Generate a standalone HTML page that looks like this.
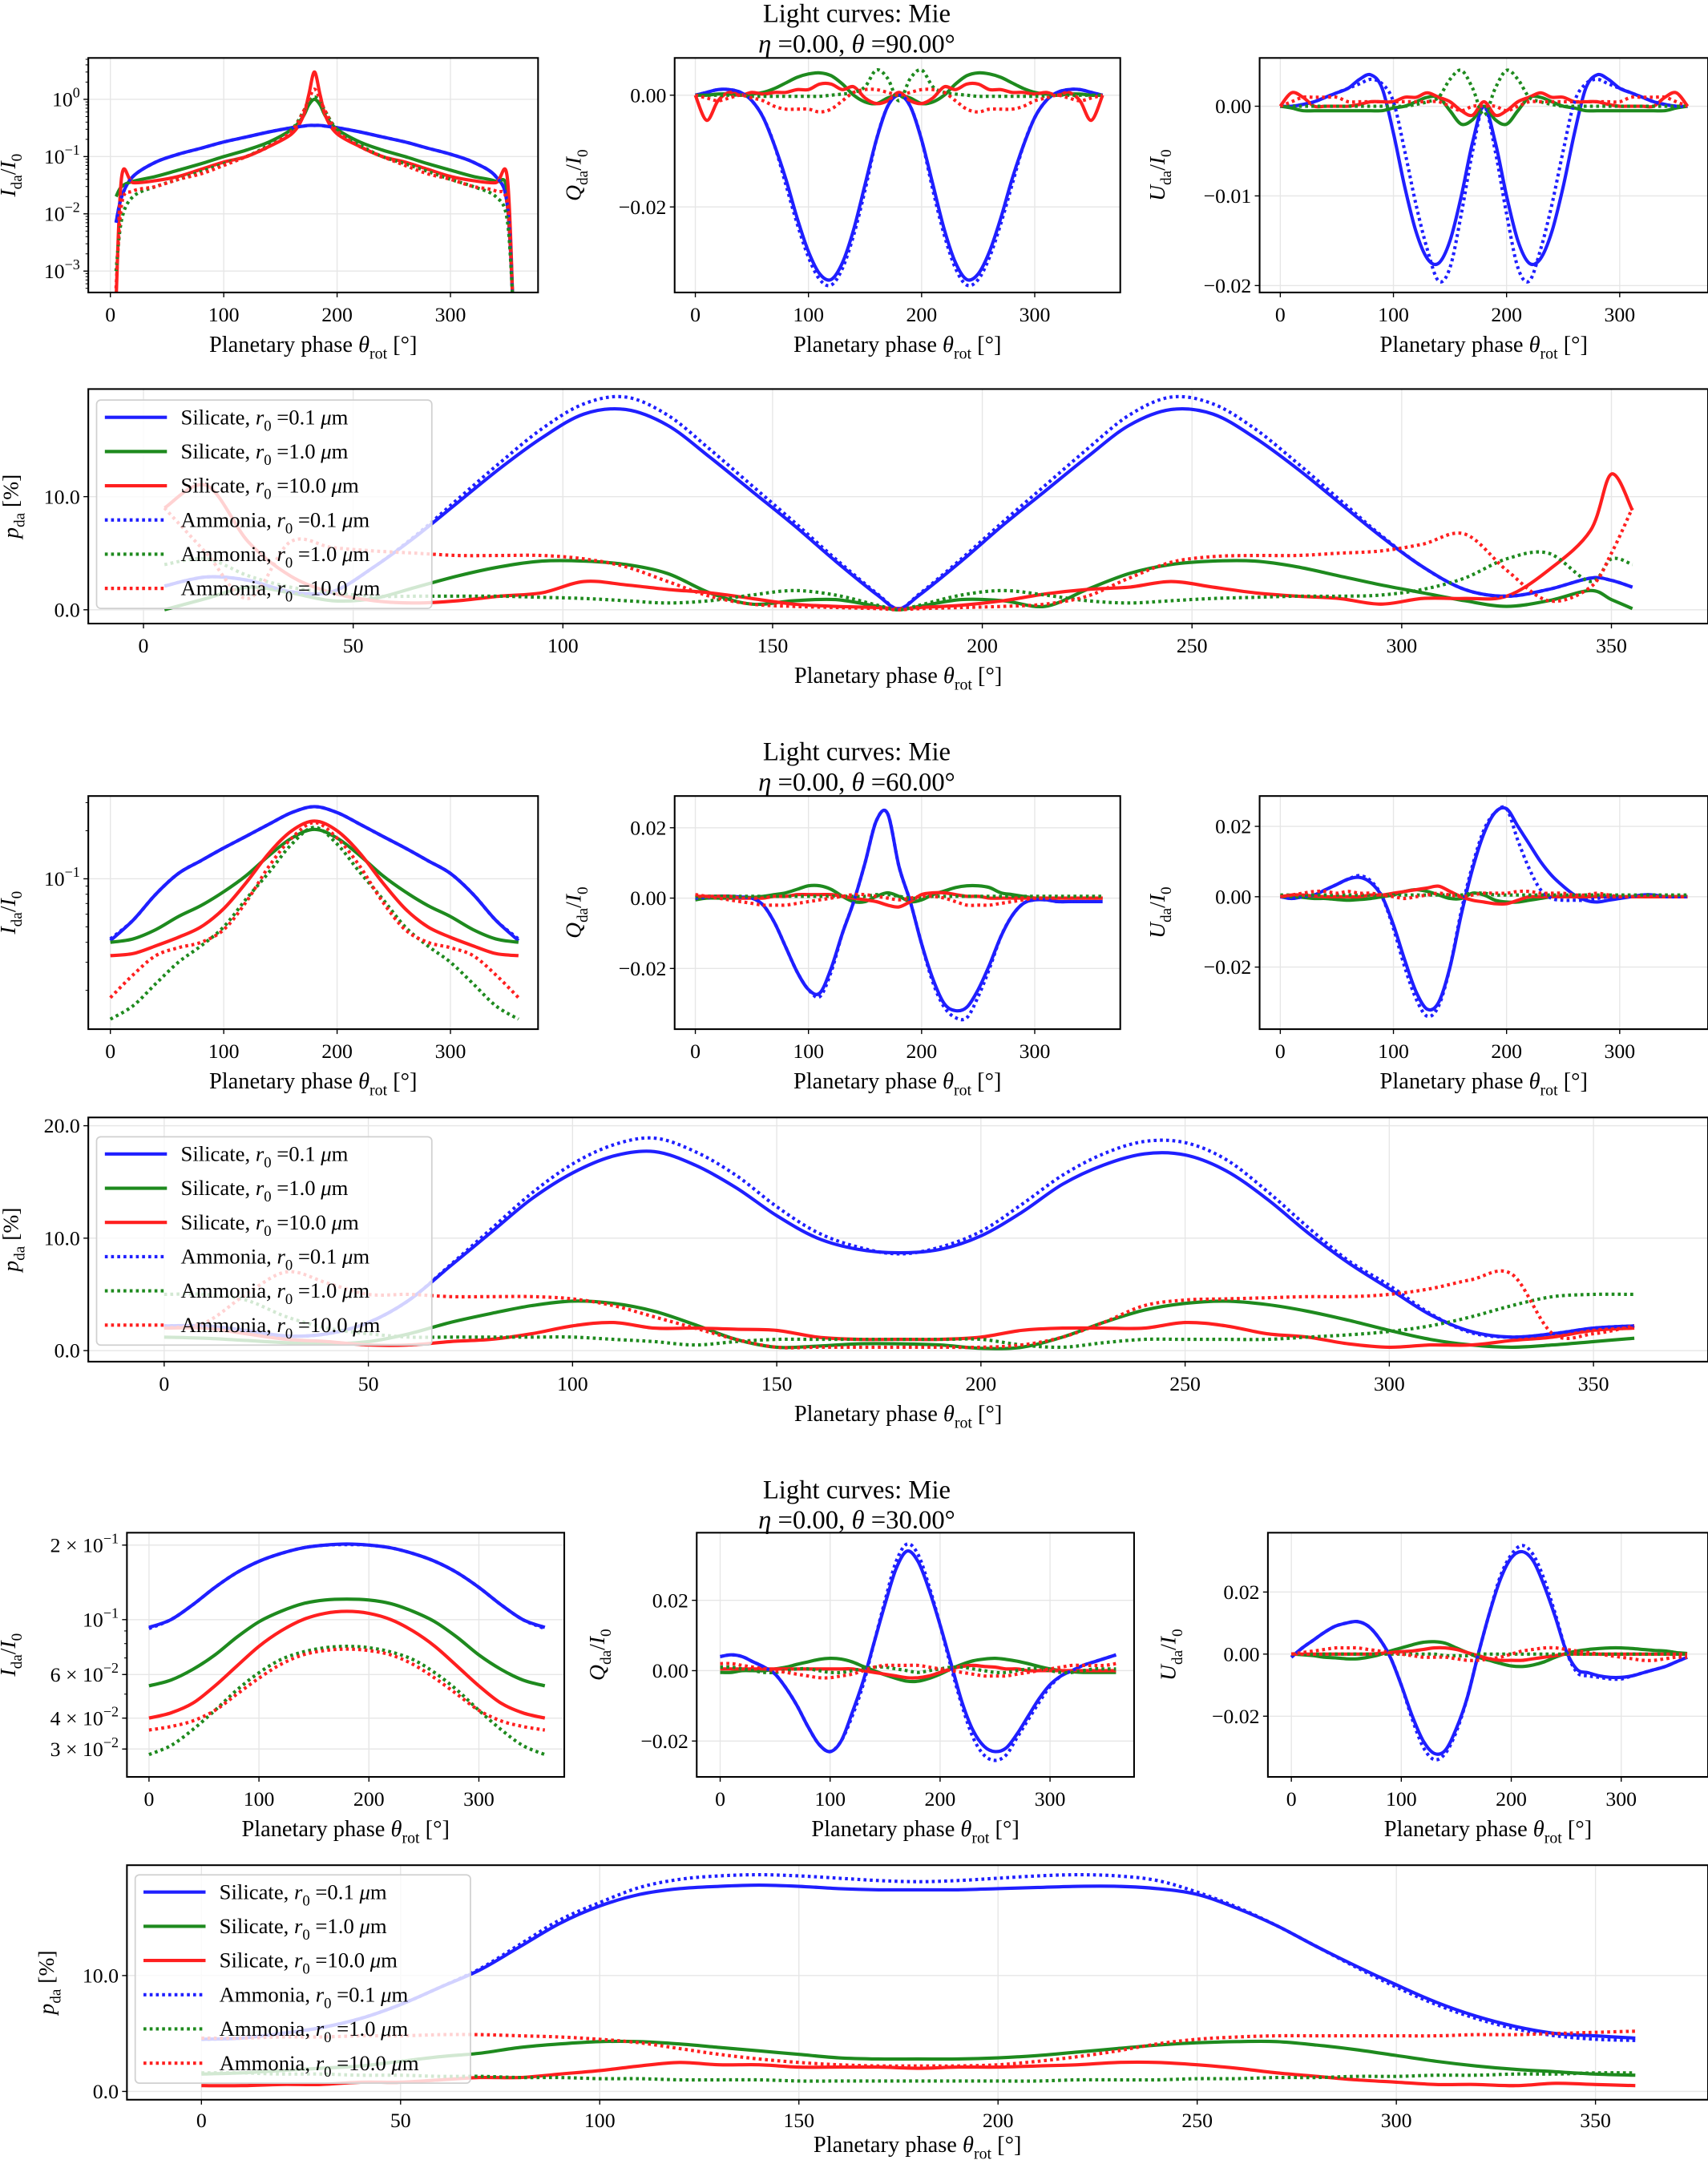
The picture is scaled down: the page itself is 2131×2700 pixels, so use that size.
<!DOCTYPE html>
<html><head><meta charset="utf-8"><title>Light curves: Mie</title>
<style>
html,body{margin:0;padding:0;background:#fff;}
svg{display:block;font-family:"Liberation Serif","DejaVu Serif",serif;}
</style></head>
<body>
<svg id="fig" xmlns="http://www.w3.org/2000/svg" width="2131" height="2700" viewBox="0 0 1238 1568.6" preserveAspectRatio="none"></svg>
<script>
// ---------- data ----------
const phaseIv1 = [5,10,20,40,60,80,100,120,140,160,170,175,180,185,190,200,220,240,260,280,300,320,340,350,355];
const iSilB1 = [0.007,0.02,0.045,0.08,0.11,0.14,0.18,0.22,0.27,0.32,0.34,0.35,0.35,0.35,0.34,0.32,0.27,0.22,0.18,0.14,0.11,0.08,0.045,0.015,0.0003];
const iAmmB1 = [0.007,0.02,0.045,0.08,0.11,0.14,0.18,0.22,0.27,0.32,0.34,0.35,0.35,0.35,0.34,0.32,0.27,0.22,0.18,0.14,0.11,0.08,0.045,0.015,0.0003];
const iSilG1 = [0.02,0.03,0.037,0.045,0.058,0.075,0.1,0.13,0.18,0.3,0.5,0.8,1.0,0.8,0.5,0.3,0.18,0.13,0.1,0.075,0.058,0.045,0.037,0.025,0.0003];
const iSilR1 = [0.0003,0.045,0.035,0.038,0.045,0.06,0.08,0.1,0.15,0.25,0.5,1.2,3.0,1.2,0.5,0.25,0.15,0.1,0.08,0.06,0.045,0.038,0.035,0.045,0.0003];
const iAmmG1 = [0.001,0.008,0.02,0.03,0.04,0.055,0.075,0.1,0.16,0.3,0.6,0.9,1.1,0.9,0.6,0.3,0.16,0.1,0.075,0.055,0.04,0.03,0.02,0.008,0.0003];
const iAmmR1 = [0.0005,0.015,0.025,0.03,0.04,0.05,0.07,0.1,0.15,0.28,0.6,1.0,1.5,1.0,0.6,0.28,0.15,0.1,0.07,0.05,0.04,0.03,0.025,0.015,0.0003];

const phase10 = [0,10,20,30,40,50,60,70,80,90,100,110,120,130,140,150,160,170,180,190,200,210,220,230,240,250,260,270,280,290,300,310,320,330,340,350,360];
const phase20 = [0,20,40,60,80,100,120,140,160,180,200,220,240,260,280,300,320,340,360];
const phaseP1 = [5,15,25,35,45,55,65,75,85,95,105,115,125,135,145,155,165,175,180,185,195,205,215,225,235,245,255,265,275,285,295,305,315,325,335,345,350,355];

// Q, U in units of 0.01
const qSilB1 = [0,0.05,0.1,0.1,0.05,-0.1,-0.4,-0.9,-1.5,-2.2,-2.8,-3.2,-3.3,-3.0,-2.4,-1.6,-0.8,-0.2,0,-0.2,-0.8,-1.6,-2.4,-3.0,-3.3,-3.2,-2.8,-2.2,-1.5,-0.9,-0.4,-0.1,0.05,0.1,0.1,0.05,0];
const qAmmB1 = [0,0.05,0.1,0.1,0.05,-0.1,-0.4,-0.9,-1.6,-2.3,-2.9,-3.3,-3.4,-3.1,-2.5,-1.7,-0.8,-0.2,0,-0.2,-0.8,-1.7,-2.5,-3.1,-3.4,-3.3,-2.9,-2.3,-1.6,-0.9,-0.4,-0.1,0.05,0.1,0.1,0.05,0];
const qSilG1 = [0,0,0.02,0.02,0,0.02,0.05,0.12,0.22,0.32,0.38,0.4,0.35,0.2,0,-0.12,-0.15,-0.05,0,-0.05,-0.15,-0.12,0,0.2,0.35,0.4,0.38,0.32,0.22,0.12,0.05,0.02,0,0.02,0.02,0,0];
const qSilR1 = [0,-0.45,-0.1,0.05,0,0.05,0.02,0.05,0.05,0.1,0.1,0.2,0.2,0.1,0.15,-0.05,-0.15,-0.1,0.05,-0.1,-0.15,-0.05,0.15,0.1,0.2,0.2,0.1,0.1,0.05,0.05,0.02,0.05,0,0.05,-0.1,-0.45,0];
const qAmmG1 = [0,0,0,0,0,-0.02,-0.02,-0.02,-0.02,-0.02,-0.02,-0.02,0,0.02,0.05,0.15,0.45,0.3,-0.1,0.3,0.45,0.15,0.05,0.02,0,-0.02,-0.02,-0.02,-0.02,-0.02,-0.02,-0.02,0,0,0,0,0];
const qAmmR1 = [0,-0.05,-0.1,-0.05,0,-0.05,-0.1,-0.2,-0.25,-0.25,-0.25,-0.3,-0.25,-0.1,0.05,0.1,0.1,0.05,0,0.05,0.1,0.1,0.05,-0.1,-0.25,-0.3,-0.25,-0.25,-0.25,-0.2,-0.1,-0.05,0,-0.05,-0.1,-0.05,0];

const uSilB1 = [0,0,0.02,0.05,0.1,0.15,0.2,0.3,0.35,0.2,-0.3,-0.9,-1.4,-1.7,-1.75,-1.5,-1.0,-0.4,0,-0.4,-1.0,-1.5,-1.75,-1.7,-1.4,-0.9,-0.3,0.2,0.35,0.3,0.2,0.15,0.1,0.05,0.02,0,0];
const uAmmB1 = [0,0,0.02,0.05,0.1,0.15,0.2,0.25,0.3,0.25,0.05,-0.5,-1.1,-1.6,-1.95,-1.8,-1.2,-0.5,0,-0.5,-1.2,-1.8,-1.95,-1.6,-1.1,-0.5,0.05,0.25,0.3,0.25,0.2,0.15,0.1,0.05,0.02,0,0];
const uSilG1 = [0,-0.02,-0.05,-0.05,-0.05,-0.05,-0.05,-0.05,-0.05,-0.05,-0.02,0,0.05,0.1,0.1,-0.05,-0.2,-0.15,0,-0.15,-0.2,-0.05,0.1,0.1,0.05,0,-0.02,-0.05,-0.05,-0.05,-0.05,-0.05,-0.05,-0.05,-0.05,-0.02,0];
const uSilR1 = [0,0.15,0.1,0,0,0,0,0.02,0.05,0.05,0.05,0.1,0.1,0.15,0.1,0.05,-0.05,-0.1,0.05,-0.1,-0.05,0.05,0.1,0.15,0.1,0.1,0.05,0.05,0.05,0.02,0,0,0,0,0.1,0.15,0];
const uAmmG1 = [0,0,0,0,0,0,0,0,0,0,0,0,0.02,0.05,0.1,0.3,0.4,0.2,-0.1,0.2,0.4,0.3,0.1,0.05,0.02,0,0,0,0,0,0,0,0,0,0,0,0];
const uAmmR1 = [0,0.05,0.1,0.1,0.1,0.1,0.05,0.05,0.05,0.05,0.05,0.05,0.05,0.05,0.05,0,-0.05,0,0,0,-0.05,0,0.05,0.05,0.05,0.05,0.05,0.05,0.05,0.05,0.05,0.1,0.1,0.1,0.1,0.05,0];

const pSilB1 = [2.1,2.9,2.6,1.6,1.6,3.8,6.5,9.5,12.5,15.2,17.3,17.7,16.3,13.5,10.5,7.5,4.3,1.3,0.1,1.3,4.3,7.5,10.5,13.5,16.3,17.7,17.3,15.2,12.5,9.5,6.5,3.8,1.8,1.2,1.8,2.8,2.6,2.0];
const pAmmB1 = [2.1,2.9,2.6,1.6,1.6,3.8,6.6,9.8,13,16,18.2,18.8,17.2,14.2,11,7.8,4.5,1.4,0.1,1.4,4.5,7.8,11,14.2,17.2,18.8,18.2,16,13,9.8,6.6,3.8,1.8,1.2,1.8,2.8,2.6,2.0];
const pSilG1 = [0,1.0,2.0,1.5,0.8,1.0,2.0,3.0,3.8,4.3,4.3,4.0,3.2,1.5,0.5,0.8,0.9,0.3,0,0.3,0.9,0.8,0.3,1.8,3.2,4.0,4.3,4.3,3.8,3.0,2.2,1.5,0.8,0.3,0.8,1.7,0.9,0.1];
const pSilR1 = [9,11,6,3,1.5,0.8,0.6,0.8,1.2,1.5,2.5,2.2,1.8,1.5,1.0,0.5,0.3,0.2,0.1,0.2,0.4,0.8,1.4,1.8,2.0,2.5,2.0,1.5,1.2,1.0,0.5,1.0,1.0,1.2,3.5,7,12,8.8];
const pAmmG1 = [4,4.5,3,2,1.5,1.2,1.2,1.2,1.2,1.1,1.0,0.8,0.6,0.8,1.3,1.7,1.3,0.4,0,0.4,1.3,1.7,1.3,0.8,0.6,0.8,1.0,1.1,1.2,1.2,1.3,1.8,2.8,4.5,5.0,2.5,4.5,4.0];
const pAmmR1 = [9,5,1,6,5.5,5.2,5.0,4.8,4.8,4.8,4.5,3.8,2.5,1.2,0.5,0.3,0.2,0.1,0,0.1,0.2,0.3,0.5,1.2,2.8,4.2,4.7,4.8,4.8,5.0,5.2,5.8,6.7,3.5,0.8,2,5,9];

const iSilB2 = [0.041,0.055,0.08,0.108,0.13,0.156,0.185,0.22,0.26,0.283,0.26,0.22,0.185,0.156,0.13,0.108,0.08,0.055,0.041];
const iAmmB2 = [0.042,0.055,0.08,0.108,0.13,0.156,0.185,0.22,0.26,0.283,0.26,0.22,0.185,0.156,0.13,0.108,0.08,0.055,0.042];
const iSilG2 = [0.04,0.042,0.048,0.058,0.068,0.083,0.105,0.14,0.18,0.204,0.18,0.14,0.105,0.083,0.068,0.058,0.048,0.042,0.04];
const iSilR2 = [0.033,0.034,0.038,0.043,0.05,0.065,0.095,0.145,0.2,0.23,0.2,0.145,0.095,0.065,0.05,0.043,0.038,0.034,0.033];
const iAmmG2 = [0.0132,0.016,0.022,0.03,0.038,0.05,0.075,0.11,0.165,0.21,0.165,0.11,0.075,0.05,0.038,0.03,0.022,0.016,0.0132];
const iAmmR2 = [0.018,0.025,0.033,0.037,0.04,0.048,0.072,0.12,0.18,0.225,0.18,0.12,0.072,0.048,0.04,0.037,0.033,0.025,0.018];

const qSilB2 = [0,0.02,0.05,0.05,0.03,0,-0.2,-0.7,-1.4,-2.1,-2.6,-2.7,-2.0,-1.0,-0.1,1.0,2.2,2.4,0.9,-0.1,-1.3,-2.3,-3.0,-3.2,-3.1,-2.6,-1.9,-1.1,-0.5,-0.15,-0.05,-0.05,-0.1,-0.1,-0.1,-0.1,-0.1];
const qAmmB2 = [0,0.02,0.05,0.05,0.03,0,-0.2,-0.7,-1.4,-2.1,-2.6,-2.8,-2.1,-1.0,-0.1,1.0,2.2,2.4,0.9,-0.1,-1.3,-2.4,-3.1,-3.4,-3.4,-2.8,-2.0,-1.1,-0.5,-0.15,-0.05,-0.05,-0.1,-0.1,-0.1,-0.1,-0.1];
const qSilG2 = [-0.05,0,0,0,0,0.02,0.05,0.1,0.15,0.25,0.35,0.35,0.25,0.05,-0.1,-0.1,0.05,0.15,0.05,-0.1,-0.05,0.1,0.2,0.3,0.35,0.35,0.3,0.15,0.1,0.05,0,0,0,0,0,0,0];
const qSilR2 = [0.05,0.05,0.05,0.05,0,0,0,0.05,0.05,0.1,0.1,0.1,0.1,0.05,0,-0.05,-0.1,-0.2,-0.25,-0.1,0.1,0.15,0.15,0.1,0.05,0.05,0,0,0,0,0,0,0,0,0,0,0];
const qAmmG2 = [0.05,0.05,0.05,0.05,0.05,0.05,0.05,0.05,0.05,0.05,0.05,0.05,0.05,0.05,0.05,0.05,0.1,0.1,0.05,0,0,0.05,0.05,0.05,0.05,0.05,0.05,0.05,0.05,0.05,0.05,0.05,0.05,0.05,0.05,0.05,0.05];
const qAmmR2 = [0.1,0.05,0,-0.05,-0.1,-0.15,-0.2,-0.2,-0.2,-0.15,-0.1,-0.05,0,0.05,0.1,0.1,0.05,0,-0.05,0,0.05,0.05,0,-0.1,-0.2,-0.2,-0.2,-0.15,-0.1,-0.05,0,0,0,0,0,0,0];

const uSilB2 = [0,-0.05,0,0.05,0.2,0.35,0.5,0.55,0.4,0,-0.8,-1.8,-2.7,-3.2,-3.0,-2.0,-0.5,0.8,1.8,2.4,2.5,2.0,1.5,1.0,0.6,0.3,0.05,-0.1,-0.15,-0.1,-0.05,0,0.05,0.05,0,0,0];
const uAmmB2 = [0,-0.05,0,0.05,0.2,0.35,0.5,0.6,0.45,0,-0.9,-2.0,-2.9,-3.4,-3.1,-2.0,-0.4,0.9,1.9,2.4,2.5,1.6,0.8,0.2,-0.05,-0.1,-0.1,-0.1,-0.05,0,0,0,0.05,0.05,0,0,0];
const uSilG2 = [0,0,-0.02,-0.05,-0.05,-0.08,-0.1,-0.08,-0.05,0,0.05,0.15,0.2,0.15,0.05,-0.05,-0.05,0.1,0.05,-0.1,-0.15,-0.15,-0.1,-0.05,0,0,0,0,0,0,0,0,0,0,0,0,0];
const uSilR2 = [0,0.05,0.05,0.02,0,0,0,0,0.05,0.05,0.1,0.15,0.2,0.25,0.3,0.15,0,-0.1,-0.15,-0.2,-0.2,-0.1,0,0,0,0,0,0,0,0,0,0,0,0,0,0,0];
const uAmmG2 = [0.05,0.05,0.05,0.05,0.05,0.05,0.05,0.05,0.05,0.05,0.05,0.05,0.05,0.05,0.05,0.05,0.05,0.1,0.1,0.05,0.05,0.05,0.05,0.05,0.05,0.05,0.05,0.05,0.05,0.05,0.05,0.05,0.05,0.05,0.05,0.05,0.05];
const uAmmR2 = [0,0.05,0.1,0.15,0.15,0.1,0.15,0.1,0.1,0.05,0,-0.05,0,0.05,0.1,0.05,0,0.05,0.1,0.1,0.1,0.15,0.15,0.1,0.1,0.1,0.05,0.05,0.1,0.05,0,0,0,0,0,0,0];

const pSilB2 = [2.2,2.2,1.8,1.3,1.5,2.5,4.5,7.5,10.5,13.5,15.8,17.3,17.7,16.5,14.5,12,10,9,8.7,9,10.2,12.3,14.8,16.5,17.5,17.4,16,13.5,10.5,7.8,5.5,3.2,1.7,1.2,1.5,2.0,2.2];
const pAmmB2 = [2.2,2.2,1.8,1.3,1.5,2.5,4.5,7.6,10.8,14,16.6,18.3,18.9,17.7,15.6,12.8,10.5,9.2,8.6,9.2,10.6,13,15.6,17.5,18.6,18.5,17,14.2,11,8,5.8,3.3,1.6,1.2,1.5,2.0,2.2];
const pSilG2 = [1.2,1.1,0.9,0.7,0.6,0.8,1.5,2.5,3.3,4.0,4.4,4.2,3.5,2.3,1.0,0.3,0.4,0.6,0.6,0.5,0.2,0.3,1.2,2.5,3.6,4.2,4.4,4.1,3.5,2.7,1.8,1.0,0.5,0.3,0.5,0.8,1.1];
const pSilR2 = [2.0,2.0,1.5,1.0,0.8,0.5,0.5,0.8,1.0,1.5,2.2,2.5,2.0,2.0,1.9,1.8,1.2,1.0,1.0,1.0,1.2,1.8,2.0,2.0,2.0,2.5,2.2,1.5,1.2,0.6,0.3,0.5,0.5,0.9,1.2,1.8,2.0];
const pAmmG2 = [5,5,4.5,3,2,1.5,1.2,1.2,1.2,1.2,1.2,1.0,0.8,0.5,0.8,1.0,1.0,1.0,1.0,1.0,1.0,0.5,0.3,0.7,1.0,1.0,1.0,1.0,1.2,1.4,1.7,2.2,3,4,4.8,5,5];
const pAmmR2 = [2,2.5,5,7,6,5,5,4.8,4.8,4.8,4.6,4.0,3.0,2.0,1.0,0.3,0.3,0.3,0.3,0.3,0.3,0.5,1.2,2.5,4.0,4.5,4.6,4.7,4.8,4.8,5,5.5,6.3,6.8,1.5,1.5,2.2];

const iSilB3 = [0.093,0.1,0.115,0.135,0.155,0.172,0.185,0.195,0.2,0.202,0.2,0.195,0.185,0.172,0.155,0.135,0.115,0.1,0.093];
const iAmmB3 = [0.092,0.1,0.115,0.135,0.155,0.172,0.185,0.195,0.2,0.201,0.2,0.195,0.185,0.172,0.155,0.135,0.115,0.1,0.092];
const iSilG3 = [0.054,0.057,0.063,0.072,0.085,0.098,0.108,0.116,0.12,0.121,0.12,0.116,0.108,0.098,0.085,0.072,0.063,0.057,0.054];
const iSilR3 = [0.04,0.042,0.046,0.054,0.065,0.078,0.09,0.1,0.106,0.108,0.106,0.1,0.09,0.078,0.065,0.054,0.046,0.042,0.04];
const iAmmG3 = [0.0285,0.031,0.036,0.043,0.052,0.061,0.069,0.074,0.077,0.078,0.077,0.074,0.069,0.061,0.052,0.043,0.036,0.031,0.0285];
const iAmmR3 = [0.0358,0.037,0.039,0.043,0.05,0.058,0.066,0.072,0.075,0.076,0.075,0.072,0.066,0.058,0.05,0.043,0.039,0.037,0.0358];

const qSilB3 = [0.4,0.45,0.4,0.25,0.1,-0.1,-0.5,-1.0,-1.6,-2.1,-2.3,-2.0,-1.2,-0.3,0.8,1.9,2.9,3.4,3.1,2.3,1.3,0.2,-0.9,-1.7,-2.15,-2.3,-2.2,-1.8,-1.3,-0.8,-0.4,-0.15,0,0.15,0.25,0.35,0.45];
const qAmmB3 = [0.4,0.45,0.4,0.25,0.1,-0.1,-0.5,-1.0,-1.6,-2.1,-2.3,-2.0,-1.3,-0.4,0.8,2.0,3.1,3.6,3.3,2.4,1.3,0.1,-1.0,-1.9,-2.4,-2.55,-2.4,-1.9,-1.4,-0.9,-0.45,-0.15,0,0.15,0.25,0.35,0.45];
const qSilG3 = [-0.05,-0.05,0,0,0,0.05,0.1,0.18,0.25,0.32,0.35,0.33,0.25,0.12,0,-0.12,-0.22,-0.3,-0.3,-0.22,-0.1,0.05,0.18,0.28,0.33,0.35,0.32,0.27,0.2,0.12,0.05,0,-0.03,-0.05,-0.05,-0.05,-0.05];
const qSilR3 = [0.05,0.05,0.05,0.05,0.05,0.05,0.05,0.05,0.05,0.05,0.05,0.05,0.05,0,-0.05,-0.1,-0.15,-0.2,-0.2,-0.15,-0.05,0.05,0.12,0.15,0.12,0.1,0.05,0.05,0,0,0,0,0,0,0,0,0];
const qAmmG3 = [0.1,0.1,0.05,0,-0.05,-0.05,0,0.05,0.05,0,-0.05,-0.05,0,0.05,0.1,0.1,0.05,0,-0.05,0,0.05,0.1,0.1,0.05,0,-0.05,-0.05,0,0.05,0.05,0,-0.05,-0.05,0,0.05,0.05,0.05];
const qAmmR3 = [0.2,0.2,0.15,0.1,0.05,0,-0.05,-0.1,-0.15,-0.2,-0.2,-0.15,-0.1,0,0.1,0.15,0.15,0.15,0.15,0.1,0.05,0,-0.05,-0.1,-0.15,-0.15,-0.15,-0.1,-0.05,0,0.05,0.1,0.15,0.15,0.15,0.15,0.2];

const uSilB3 = [-0.1,0.2,0.45,0.7,0.9,1.0,1.05,0.9,0.5,-0.1,-1.0,-2.0,-2.8,-3.2,-3.1,-2.4,-1.4,0,1.3,2.4,3.1,3.3,3.0,2.2,1.2,0.1,-0.5,-0.6,-0.7,-0.75,-0.75,-0.7,-0.6,-0.5,-0.4,-0.25,-0.1];
const uAmmB3 = [-0.1,0.2,0.45,0.7,0.9,1.0,1.05,0.9,0.5,-0.1,-1.0,-2.1,-3.0,-3.4,-3.2,-2.5,-1.4,0,1.3,2.5,3.2,3.5,3.2,2.4,1.3,0.1,-0.6,-0.7,-0.75,-0.8,-0.8,-0.7,-0.6,-0.5,-0.4,-0.25,-0.1];
const uSilG3 = [0,-0.02,-0.05,-0.1,-0.12,-0.15,-0.15,-0.1,-0.02,0.1,0.2,0.3,0.38,0.4,0.35,0.2,0.05,-0.1,-0.2,-0.3,-0.38,-0.4,-0.35,-0.25,-0.1,0.02,0.1,0.15,0.18,0.2,0.2,0.18,0.15,0.12,0.1,0.05,0.02];
const uSilR3 = [0,0,0,0,0,0,0,0,0.02,0.05,0.08,0.1,0.15,0.2,0.2,0.15,0.05,-0.05,-0.15,-0.2,-0.2,-0.2,-0.15,-0.1,-0.05,0,0,0,0,0,0,0,0,0,0,0,0];
const uAmmG3 = [0,0,0,0,0,0,0,0,0,0,0,0,0,0,-0.05,-0.05,-0.05,0,0,0,0,0,0,0,0,0,0,0,0,0,0,0,0,0,0,0,0];
const uAmmR3 = [0,0.05,0.1,0.15,0.2,0.2,0.2,0.15,0.1,0.05,0,-0.05,-0.1,-0.1,-0.1,-0.15,-0.2,-0.2,-0.15,-0.1,0,0.1,0.15,0.2,0.2,0.15,0.1,0.05,0,-0.05,-0.1,-0.15,-0.2,-0.2,-0.15,-0.1,-0.1];

const pSilB3 = [4.5,4.6,5.0,5.5,6.3,7.5,9.0,10.5,12.5,14.5,16.0,17.0,17.5,17.7,17.8,17.7,17.5,17.4,17.4,17.4,17.5,17.6,17.7,17.7,17.5,17.0,15.8,14.3,12.5,10.8,9.2,7.7,6.5,5.6,5.0,4.8,4.6];
const pAmmB3 = [4.5,4.6,5.0,5.5,6.3,7.5,9.0,10.6,12.7,14.8,16.3,17.6,18.3,18.6,18.7,18.6,18.4,18.2,18.1,18.2,18.4,18.6,18.7,18.6,18.2,17.2,15.9,14.3,12.5,10.7,9.0,7.5,6.3,5.4,4.8,4.5,4.4];
const pSilG3 = [1.5,1.6,1.8,2.0,2.2,2.6,3.0,3.3,3.8,4.1,4.3,4.3,4.1,3.8,3.5,3.2,2.9,2.8,2.8,2.8,2.9,3.1,3.4,3.7,4.0,4.2,4.3,4.3,4.0,3.6,3.1,2.6,2.2,1.9,1.7,1.5,1.4];
const pSilR3 = [0.5,0.5,0.6,0.6,0.8,0.8,1.0,1.2,1.2,1.5,1.8,2.2,2.5,2.3,2.3,2.1,2.1,2.1,2.0,2.1,2.1,2.2,2.3,2.5,2.5,2.3,2.0,1.6,1.3,1.0,0.8,0.6,0.6,0.5,0.7,0.6,0.5];
const pAmmG3 = [1.6,1.6,1.5,1.5,1.4,1.4,1.3,1.3,1.2,1.2,1.1,1.1,1.0,1.0,1.0,0.9,0.9,0.9,0.9,0.9,0.9,0.9,1.0,1.0,1.0,1.1,1.1,1.2,1.2,1.3,1.3,1.4,1.4,1.5,1.5,1.6,1.6];
const pAmmR3 = [4.6,4.6,4.7,4.7,4.8,4.8,4.9,4.9,4.8,4.7,4.5,4.2,3.7,3.2,2.8,2.5,2.3,2.2,2.2,2.2,2.3,2.6,3.0,3.5,4.1,4.5,4.7,4.8,4.8,4.8,4.8,4.8,4.9,4.9,5.0,5.1,5.2];

const legendSizes = ["0.1","1.0","10.0","0.1","1.0","10.0"];
const legendMaterials = ["Silicate","Silicate","Silicate","Ammonia","Ammonia","Ammonia"];
const thetaLabels = ["90.00","60.00","30.00"];
const xTicksSmall = [0,100,200,300];
const xTicksWide = [0,50,100,150,200,250,300,350];

// ---------- drawing ----------
const NS = 'http://www.w3.org/2000/svg';
const svg = document.getElementById('fig');
const BLUE = '#1f1fff', GREEN = '#1e8a1e', RED = '#ff1f1f';
const COLORS = [BLUE, GREEN, RED, BLUE, GREEN, RED];

function mk(tag, parent) { const e = document.createElementNS(NS, tag); (parent || svg).appendChild(e); return e; }

function richText(parent, x, y, segs, size, anchor, rot) {
  const t = mk('text', parent);
  t.setAttribute('x', x); t.setAttribute('y', y);
  t.setAttribute('font-size', size);
  t.setAttribute('text-anchor', anchor || 'middle');
  if (rot) t.setAttribute('transform', 'rotate(-90 ' + x + ' ' + y + ')');
  let shift = 0;
  segs.forEach(s => {
    const sp = mk('tspan', t);
    let target = 0, fs = size;
    if (s.sub) { target = size * 0.3; fs = size * 0.7; }
    if (s.sup) { target = -size * 0.42; fs = size * 0.7; }
    const dy = target - shift; shift = target;
    if (dy !== 0) sp.setAttribute('dy', dy.toFixed(2));
    sp.setAttribute('font-size', fs);
    if (s.it) sp.setAttribute('font-style', 'italic');
    sp.textContent = s.t;
  });
  return t;
}

function smoothPath(pts) {
  if (pts.length < 2) return '';
  let d = 'M' + pts[0][0].toFixed(2) + ',' + pts[0][1].toFixed(2);
  for (let i = 0; i < pts.length - 1; i++) {
    const p0 = pts[Math.max(0, i - 1)], p1 = pts[i], p2 = pts[i + 1], p3 = pts[Math.min(pts.length - 1, i + 2)];
    const c1x = p1[0] + (p2[0] - p0[0]) / 6, c1y = p1[1] + (p2[1] - p0[1]) / 6;
    const c2x = p2[0] - (p3[0] - p1[0]) / 6, c2y = p2[1] - (p3[1] - p1[1]) / 6;
    d += 'C' + c1x.toFixed(2) + ',' + c1y.toFixed(2) + ' ' + c2x.toFixed(2) + ',' + c2y.toFixed(2) + ' ' + p2[0].toFixed(2) + ',' + p2[1].toFixed(2);
  }
  return d;
}

let clipId = 0;
function drawPanel(P) {
  const g = mk('g');
  
  
  const W = P.x1 - P.x0, H = P.y1 - P.y0;
  const tickOff = P.tickOff || 21, labOff = P.labOff || 43;
  const grid = mk('g', g);
  
  
  P.xticks.forEach(v => {
    const x = P.xmap(v);
    const l = mk('line', grid);
    
    
    l.setAttribute('x1', x); l.setAttribute('x2', x); l.setAttribute('y1', P.y0); l.setAttribute('y2', P.y1);
    l.setAttribute('stroke', '#e6e6e6'); l.setAttribute('stroke-width', 0.8);
  });
  P.yticks.forEach(tk => {
    const y = P.ymap(tk.v);
    const l = mk('line', grid);
    
    
    l.setAttribute('x1', P.x0); l.setAttribute('x2', P.x1); l.setAttribute('y1', y); l.setAttribute('y2', y);
    l.setAttribute('stroke', '#e6e6e6'); l.setAttribute('stroke-width', 0.8);
  });
  const cid = 'clip' + (clipId++);
  const cp = mk('clipPath', g); cp.setAttribute('id', cid);
  const cr = mk('rect', cp);
  cr.setAttribute('x', P.x0); cr.setAttribute('y', P.y0); cr.setAttribute('width', W); cr.setAttribute('height', H);
  const sg = mk('g', g);
  sg.setAttribute('clip-path', 'url(#' + cid + ')');
  
  
  P.series.forEach((s, i) => {
    const pts = s.vals.map((v, k) => [P.xmap(s.phases[k]), P.ymap(v)]);
    const path = mk('path', sg);
    
    
    path.setAttribute('d', smoothPath(pts));
    path.setAttribute('fill', 'none');
    path.setAttribute('stroke', s.color);
    path.setAttribute('stroke-width', 2.4);
    if (s.dash) path.setAttribute('stroke-dasharray', '2.1 2.4');
  });
  const fr = mk('rect', g);
  
  
  fr.setAttribute('x', P.x0); fr.setAttribute('y', P.y0); fr.setAttribute('width', W); fr.setAttribute('height', H);
  fr.setAttribute('fill', 'none'); fr.setAttribute('stroke', '#000'); fr.setAttribute('stroke-width', 1.2);
  P.xticks.forEach(v => {
    const x = P.xmap(v);
    const l = mk('line', g);
    
    
    l.setAttribute('x1', x); l.setAttribute('x2', x); l.setAttribute('y1', P.y1); l.setAttribute('y2', P.y1 + 3.5);
    l.setAttribute('stroke', '#000'); l.setAttribute('stroke-width', 0.8);
    const t = richText(g, x, P.y1 + tickOff, [{ t: String(v) }], 15, 'middle');
    
    
  });
  P.yticks.forEach(tk => {
    const y = P.ymap(tk.v);
    const l = mk('line', g);
    
    
    l.setAttribute('x1', P.x0 - 3.5); l.setAttribute('x2', P.x0); l.setAttribute('y1', y); l.setAttribute('y2', y);
    l.setAttribute('stroke', '#000'); l.setAttribute('stroke-width', 0.8);
    const t = richText(g, P.x0 - 6, y + 5, tk.segs, 15, 'end');
    
    
  });
  (P.minor || []).forEach(v => {
    const y = P.ymap(v);
    if (y < P.y0 || y > P.y1) return;
    const l = mk('line', g);
    
    
    l.setAttribute('x1', P.x0 - 2); l.setAttribute('x2', P.x0); l.setAttribute('y1', y); l.setAttribute('y2', y);
    l.setAttribute('stroke', '#000'); l.setAttribute('stroke-width', 0.6);
  });
  const xl = richText(g, (P.x0 + P.x1) / 2, P.y1 + labOff, [{ t: 'Planetary phase ' }, { t: 'θ', it: true }, { t: 'rot', sub: true }, { t: ' [°]' }], 16.5, 'middle');
  
  
  const yl = richText(g, P.ylx, (P.y0 + P.y1) / 2, P.ylabel, 16, 'middle', true);
  
  
  return g;
}

function drawLegend(x, y) {
  const g = mk('g');
  
  
  const r = mk('rect', g);
  
  
  r.setAttribute('x', x); r.setAttribute('y', y); r.setAttribute('width', 243); r.setAttribute('height', 151);
  r.setAttribute('rx', 3); r.setAttribute('fill', 'rgba(255,255,255,0.8)'); r.setAttribute('stroke', '#d0d0d0'); r.setAttribute('stroke-width', 1);
  legendSizes.forEach((sz, i) => {
    const ey = y + 12.5 + i * 24.8;
    const ln = mk('line', g);
    
    
    ln.setAttribute('x1', x + 6); ln.setAttribute('x2', x + 51); ln.setAttribute('y1', ey); ln.setAttribute('y2', ey);
    ln.setAttribute('stroke', COLORS[i]); ln.setAttribute('stroke-width', 2.4);
    if (i >= 3) ln.setAttribute('stroke-dasharray', '2.1 2.4');
    const t = richText(g, x + 61, ey + 5, [{ t: legendMaterials[i] + ', ' }, { t: 'r', it: true }, { t: '0', sub: true }, { t: ' =' + sz + ' ' }, { t: 'μ', it: true }, { t: 'm' }], 15.5, 'start');
    
    
  });
}

function sup(base, exp) { return [{ t: base }, { t: exp, sup: true }]; }
function lin(v) { return [{ t: v }]; }
function ser(prefix, phases, arrs) {
  const names = ['silicate-0.1', 'silicate-1.0', 'silicate-10.0', 'ammonia-0.1', 'ammonia-1.0', 'ammonia-10.0'];
  return arrs.map((a, i) => ({ name: prefix + '-' + names[i], phases: phases, vals: a, color: COLORS[i], dash: i >= 3 }));
}
function minorLog(lo, hi) { const out = []; for (let k = lo; k <= hi; k++) for (let m = 2; m <= 9; m++) out.push(m * Math.pow(10, k)); return out; }

const ylI = [{ t: 'I', it: true }, { t: 'da', sub: true }, { t: '/' }, { t: 'I', it: true }, { t: '0', sub: true }];
const ylQ = [{ t: 'Q', it: true }, { t: 'da', sub: true }, { t: '/' }, { t: 'I', it: true }, { t: '0', sub: true }];
const ylU = [{ t: 'U', it: true }, { t: 'da', sub: true }, { t: '/' }, { t: 'I', it: true }, { t: '0', sub: true }];
const ylP = [{ t: 'p', it: true }, { t: 'da', sub: true }, { t: ' [%]' }];

[[16, 38], [551, 573], [1086, 1108]].forEach((ys, b) => {
  const t1 = richText(svg, 621, ys[0], [{ t: 'Light curves: Mie' }], 19, 'middle');
  
  
  const t2 = richText(svg, 621, ys[1], [{ t: 'η', it: true }, { t: ' =0.00, ' }, { t: 'θ', it: true }, { t: ' =' + thetaLabels[b] + '°' }], 19, 'middle');
  
  
});

const L = Math.log10;
// ===== block 1 (theta = 90) =====
drawPanel({ name: 'intensity-panel-90', x0: 64, x1: 390, y0: 42, y1: 212, ylx: 11, ylabel: ylI,
  xmap: d => 80 + 0.8217 * d, ymap: v => 72 - 41.5 * L(v), xticks: xTicksSmall,
  yticks: [{ v: 1, segs: sup('10', '0') }, { v: 0.1, segs: sup('10', '−1') }, { v: 0.01, segs: sup('10', '−2') }, { v: 0.001, segs: sup('10', '−3') }],
  minor: minorLog(-4, 0),
  series: ser('i90', phaseIv1, [iSilB1, iSilG1, iSilR1, iAmmB1, iAmmG1, iAmmR1]) });
drawPanel({ name: 'q-panel-90', x0: 489, x1: 812, y0: 42, y1: 212, ylx: 421, ylabel: ylQ,
  xmap: d => 504 + 0.82 * d, ymap: v => 69 - 40.5 * v, xticks: xTicksSmall,
  yticks: [{ v: 0, segs: lin('0.00') }, { v: -2, segs: lin('−0.02') }],
  series: ser('q90', phase10, [qSilB1, qSilG1, qSilR1, qAmmB1, qAmmG1, qAmmR1]) });
drawPanel({ name: 'u-panel-90', x0: 913, x1: 1238, y0: 42, y1: 212, ylx: 844, ylabel: ylU,
  xmap: d => 928 + 0.82 * d, ymap: v => 77 - 65 * v, xticks: xTicksSmall,
  yticks: [{ v: 0, segs: lin('0.00') }, { v: -1, segs: lin('−0.01') }, { v: -2, segs: lin('−0.02') }],
  series: ser('u90', phase10, [uSilB1, uSilG1, uSilR1, uAmmB1, uAmmG1, uAmmR1]) });
drawPanel({ name: 'polarization-panel-90', x0: 64, x1: 1238, y0: 282, y1: 452, ylx: 13, ylabel: ylP,
  xmap: d => 104 + 3.04 * d, ymap: v => 442 - 8.2 * v, xticks: xTicksWide,
  yticks: [{ v: 0, segs: lin('0.0') }, { v: 10, segs: lin('10.0') }],
  series: ser('p90', phaseP1, [pSilB1, pSilG1, pSilR1, pAmmB1, pAmmG1, pAmmR1]) });
drawLegend(70, 290);

// ===== block 2 (theta = 60) =====
drawPanel({ name: 'intensity-panel-60', x0: 64, x1: 390, y0: 577, y1: 746, ylx: 11, ylabel: ylI,
  xmap: d => 80 + 0.8217 * d, ymap: v => 637 - 115.7 * L(v / 0.1), xticks: xTicksSmall,
  yticks: [{ v: 0.1, segs: sup('10', '−1') }], minor: minorLog(-2, -1),
  series: ser('i60', phase20, [iSilB2, iSilG2, iSilR2, iAmmB2, iAmmG2, iAmmR2]) });
drawPanel({ name: 'q-panel-60', x0: 489, x1: 812, y0: 577, y1: 746, ylx: 421, ylabel: ylQ,
  xmap: d => 504 + 0.82 * d, ymap: v => 651 - 25.5 * v, xticks: xTicksSmall,
  yticks: [{ v: 2, segs: lin('0.02') }, { v: 0, segs: lin('0.00') }, { v: -2, segs: lin('−0.02') }],
  series: ser('q60', phase10, [qSilB2, qSilG2, qSilR2, qAmmB2, qAmmG2, qAmmR2]) });
drawPanel({ name: 'u-panel-60', x0: 913, x1: 1238, y0: 577, y1: 746, ylx: 844, ylabel: ylU,
  xmap: d => 928 + 0.82 * d, ymap: v => 650 - 25.5 * v, xticks: xTicksSmall,
  yticks: [{ v: 2, segs: lin('0.02') }, { v: 0, segs: lin('0.00') }, { v: -2, segs: lin('−0.02') }],
  series: ser('u60', phase10, [uSilB2, uSilG2, uSilR2, uAmmB2, uAmmG2, uAmmR2]) });
drawPanel({ name: 'polarization-panel-60', x0: 64, x1: 1238, y0: 810, y1: 987, ylx: 13, ylabel: ylP,
  xmap: d => 119 + 2.96 * d, ymap: v => 979 - 8.15 * v, xticks: xTicksWide,
  yticks: [{ v: 0, segs: lin('0.0') }, { v: 10, segs: lin('10.0') }, { v: 20, segs: lin('20.0') }],
  series: ser('p60', phase10, [pSilB2, pSilG2, pSilR2, pAmmB2, pAmmG2, pAmmR2]) });
drawLegend(70, 824);

// ===== block 3 (theta = 30) =====
drawPanel({ name: 'intensity-panel-30', x0: 92, x1: 409, y0: 1111, y1: 1288, ylx: 11, ylabel: ylI,
  xmap: d => 108 + 0.797 * d, ymap: v => 1174 - 179.4 * L(v / 0.1), xticks: xTicksSmall,
  yticks: [{ v: 0.2, segs: [{ t: '2 × 10' }, { t: '−1', sup: true }] }, { v: 0.1, segs: sup('10', '−1') },
    { v: 0.06, segs: [{ t: '6 × 10' }, { t: '−2', sup: true }] }, { v: 0.04, segs: [{ t: '4 × 10' }, { t: '−2', sup: true }] },
    { v: 0.03, segs: [{ t: '3 × 10' }, { t: '−2', sup: true }] }],
  minor: minorLog(-2, -1),
  series: ser('i30', phase20, [iSilB3, iSilG3, iSilR3, iAmmB3, iAmmG3, iAmmR3]) });
drawPanel({ name: 'q-panel-30', x0: 505, x1: 822, y0: 1111, y1: 1288, ylx: 438, ylabel: ylQ,
  xmap: d => 522 + 0.797 * d, ymap: v => 1211 - 25.5 * v, xticks: xTicksSmall,
  yticks: [{ v: 2, segs: lin('0.02') }, { v: 0, segs: lin('0.00') }, { v: -2, segs: lin('−0.02') }],
  series: ser('q30', phase10, [qSilB3, qSilG3, qSilR3, qAmmB3, qAmmG3, qAmmR3]) });
drawPanel({ name: 'u-panel-30', x0: 919, x1: 1238, y0: 1111, y1: 1288, ylx: 852, ylabel: ylU,
  xmap: d => 936 + 0.797 * d, ymap: v => 1199 - 22.5 * v, xticks: xTicksSmall,
  yticks: [{ v: 2, segs: lin('0.02') }, { v: 0, segs: lin('0.00') }, { v: -2, segs: lin('−0.02') }],
  series: ser('u30', phase10, [uSilB3, uSilG3, uSilR3, uAmmB3, uAmmG3, uAmmR3]) });
drawPanel({ name: 'polarization-panel-30', x0: 92, x1: 1238, y0: 1352, y1: 1522, ylx: 39, ylabel: ylP,
  tickOff: 20, labOff: 38,
  xmap: d => 146 + 2.887 * d, ymap: v => 1516 - 8.4 * v, xticks: xTicksWide,
  yticks: [{ v: 0, segs: lin('0.0') }, { v: 10, segs: lin('10.0') }],
  series: ser('p30', phase10, [pSilB3, pSilG3, pSilR3, pAmmB3, pAmmG3, pAmmR3]) });
drawLegend(98, 1359);
</script>
</body></html>
